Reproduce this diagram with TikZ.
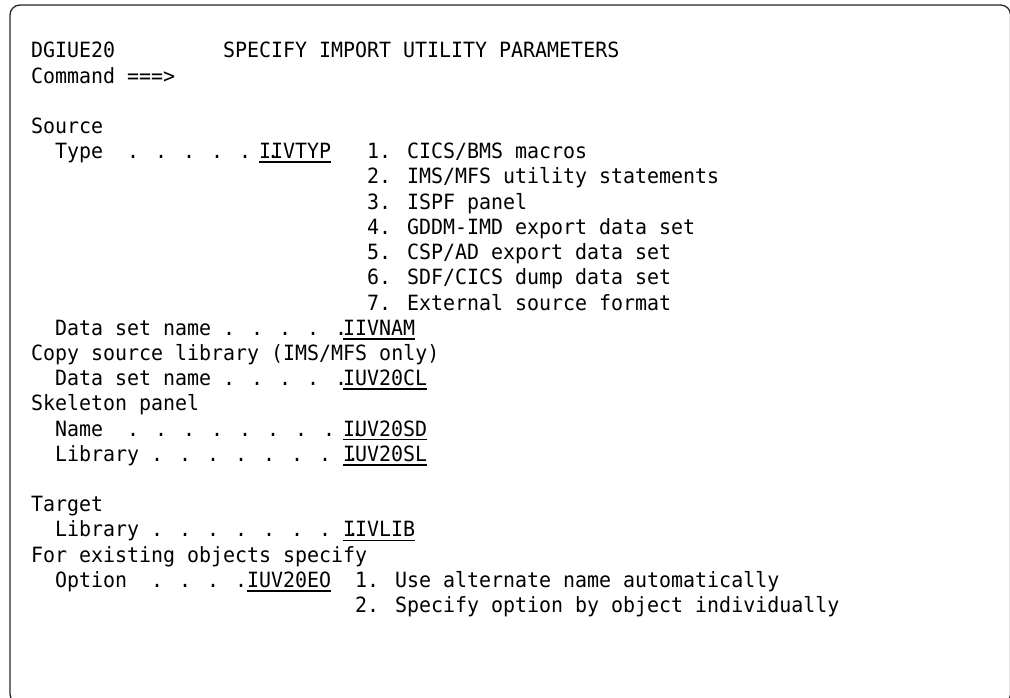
\documentclass[tikz,border=0pt]{standalone}
\usepackage{fontspec}
\newfontfamily\panelfont[FakeStretch=0.95]{DejaVu Sans Mono}
% fixed 12pt cells, spaces included
\newcommand\panelsize{\panelfont\fontsize{21}{25}\selectfont\setlength\spaceskip{12pt}}
% panel grid: 12pt per column, 25.2pt per row
\newcommand\px[1]{31+12*#1}
\newcommand\py[1]{58+25.2*#1}
\newcommand\txt[4]{\node[txt] (#1) at ({\px{#2}},{\py{#3}}) {#4};}
\newcommand\fld[4]{\node[txt] (#1) at ({\px{#2}},{\py{#3}}) {#4};
  \draw[uline] ([yshift=-3.5pt]#1.base west) -- ([yshift=-3.5pt]#1.base east);}
\begin{document}
\begin{tikzpicture}[x=1pt,y=-1pt,
  txt/.style={anchor=base west,inner sep=0pt,outer sep=0pt,font=\panelsize},
  uline/.style={line width=1.6pt},
  frame/.style={draw=black!85,line width=1.3pt,rounded corners=10pt}]
\useasboundingbox (0,0) rectangle (1010,698);
\begin{scope}
  \clip (0,0) rectangle (1010,698);
  \draw[frame] (10,5) rectangle (1010.6,704);
\end{scope}

\txt{panel}{0}{0}{DGIUE20}
\txt{title}{16}{0}{SPECIFY IMPORT UTILITY PARAMETERS}
\txt{cmd}{0}{1}{Command ===>}

\txt{src}{0}{3}{Source}
\txt{type}{2}{4}{Type}
\txt{typedots}{8}{4}{. . . . . .}
\fld{iivtyp}{19}{4}{IIVTYP}
\txt{opt1}{28}{4}{1. CICS/BMS macros}
\txt{opt2}{28}{5}{2. IMS/MFS utility statements}
\txt{opt3}{28}{6}{3. ISPF panel}
\txt{opt4}{28}{7}{4. GDDM-IMD export data set}
\txt{opt5}{28}{8}{5. CSP/AD export data set}
\txt{opt6}{28}{9}{6. SDF/CICS dump data set}
\txt{opt7}{28}{10}{7. External source format}
\txt{dsn}{2}{11}{Data set name . . . . .}
\fld{iivnam}{26}{11}{IIVNAM}

\txt{copy}{0}{12}{Copy source library (IMS/MFS only)}
\txt{copydsn}{2}{13}{Data set name . . . . .}
\fld{iuvcl}{26}{13}{IUV20CL}

\txt{skel}{0}{14}{Skeleton panel}
\txt{skname}{2}{15}{Name}
\txt{sknamedots}{8}{15}{. . . . . . . . .}
\fld{iuvsd}{26}{15}{IUV20SD}
\txt{sklib}{2}{16}{Library . . . . . . . .}
\fld{iuvsl}{26}{16}{IUV20SL}

\txt{tgt}{0}{18}{Target}
\txt{tgtlib}{2}{19}{Library . . . . . . . .}
\fld{iivlib}{26}{19}{IIVLIB}

\txt{exist}{0}{20}{For existing objects specify}
\txt{option}{2}{21}{Option}
\txt{optiondots}{10}{21}{. . . .}
\fld{iuveo}{18}{21}{IUV20EO}
\txt{eo1}{27}{21}{1. Use alternate name automatically}
\txt{eo2}{27}{22}{2. Specify option by object individually}
\end{tikzpicture}
\end{document}
